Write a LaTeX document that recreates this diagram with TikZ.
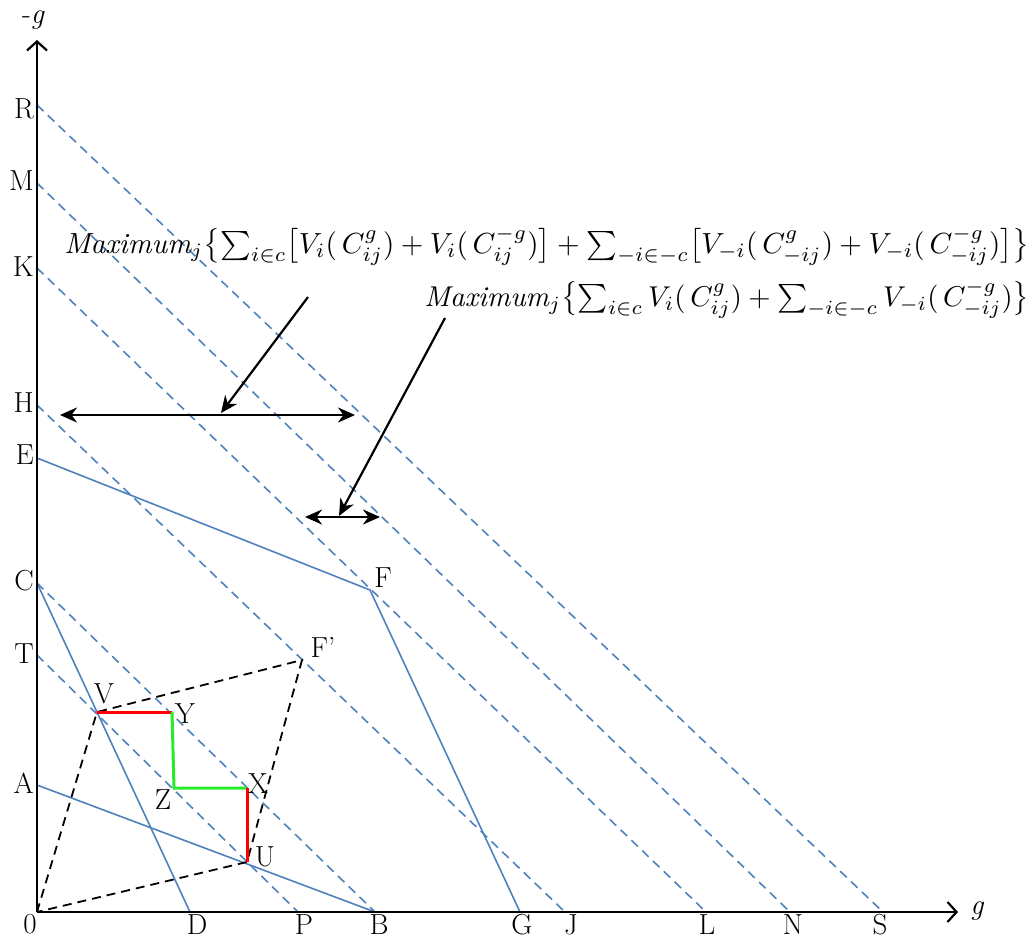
\documentclass[tikz,border=0pt]{standalone}
\usepackage{fontspec}
\usepackage{graphicx}
\usetikzlibrary{arrows.meta}
\definecolor{lblue}{RGB}{79,129,189}
\definecolor{lgreen}{RGB}{40,235,40}
\begin{document}
\begin{tikzpicture}[x=1pt,y=-1pt,
  axis/.style={line width=2.5pt,-{Straight Barb[length=9pt,width=20pt,line width=2.2pt]}},
  guide/.style={lblue,line width=1.6pt,dash pattern=on 9pt off 6pt},
  curve/.style={lblue,line width=1.6pt},
  blackdash/.style={black,line width=1.8pt,dash pattern=on 9pt off 6pt},
  redseg/.style={red,line width=3pt},
  greenseg/.style={lgreen,line width=3pt},
  pointer/.style={black,line width=2.2pt,-{Stealth[length=17pt,width=15pt]}},
  dbl/.style={black,line width=2.2pt,{Stealth[length=17pt,width=15pt]}-{Stealth[length=17pt,width=15pt]}},
  lab/.style={font=\fontsize{29}{32}\selectfont,inner sep=0pt},
  ylab/.style={lab,anchor=east},
  xlab/.style={lab,anchor=base}]
\useasboundingbox (0,0) rectangle (1036,940);
% points
\coordinate (O) at (37,912);
\coordinate (R) at (37,105);
\coordinate (M) at (37,183);
\coordinate (K) at (37,268);
\coordinate (H) at (37,405);
\coordinate (E) at (37,458);
\coordinate (C) at (37,583);
\coordinate (T) at (37,655);
\coordinate (A) at (37,785);
\coordinate (D) at (190,912);
\coordinate (P) at (298,912);
\coordinate (B) at (375,912);
\coordinate (G) at (520,912);
\coordinate (J) at (565,912);
\coordinate (L) at (706,912);
\coordinate (N) at (790,912);
\coordinate (S) at (883,912);
\coordinate (F) at (370,590);
\coordinate (Fp) at (302,660);
\coordinate (V) at (97,712);
\coordinate (Y) at (172,712);
\coordinate (Z) at (174,788);
\coordinate (X) at (247,788);
\coordinate (U) at (247,862);
\coordinate (ytip) at (37,40);
\coordinate (xtip) at (958,912);
% dashed parallel lines
\draw[guide] (R) -- (S);
\draw[guide] (M) -- (N);
\draw[guide] (K) -- (L);
\draw[guide] (H) -- (J);
\draw[guide] (C) -- (B);
\draw[guide] (T) -- (P);
% solid blue
\draw[curve] (E) -- (F) -- (G);
\draw[curve] (C) -- (D);
\draw[curve] (A) -- (B);
% black dashed
\draw[blackdash] (O) -- (V) -- (Fp) -- (U) -- cycle;
% red / green
\draw[redseg] (V) -- (Y);
\draw[greenseg] (Y) -- (Z) -- (X);
\draw[redseg] (X) -- (U);
% axes
\draw[axis] (O) -- (ytip);
\draw[axis] (O) -- (xtip);
% axis labels
\node[ylab] (lr) at (34,109) {R};
\node[ylab] (lm) at (34,181) {M};
\node[ylab] (lk) at (34,267) {K};
\node[ylab] (lh) at (34,403) {H};
\node[ylab] (le) at (34,455) {E};
\node[ylab] (lc) at (34,581) {C};
\node[ylab] (lt) at (34,654) {T};
\node[ylab] (la) at (34,783) {A};
\node[xlab] (lo) at (30,933) {0};
\node[xlab] (ld) at (197,934) {D};
\node[xlab] (lp) at (304,934) {P};
\node[xlab] (lb) at (379,934) {B};
\node[xlab] (lg) at (522,934) {G};
\node[xlab] (lj) at (571,934) {J};
\node[xlab] (ll) at (707,934) {L};
\node[xlab] (ln) at (793,934) {N};
\node[xlab] (ls) at (880,934) {S};
\node[lab] (lyax) at (33,20) {-\itshape g};
\node[lab] (lxax) at (977,911) {\itshape g};
\node[lab] (lf) at (383,578) {F};
\node[lab] (lfp) at (323,647) {F’};
\node[lab] (lv) at (104,694) {V};
\node[lab] (ly) at (185,714) {Y};
\node[lab] (lz) at (163,800) {Z};
\node[lab] (lx) at (258,784) {X};
\node[lab] (lu) at (265,857) {U};
% formulas
\node[inner sep=0pt] (f1) at (547,246) {\resizebox{965pt}{!}{$\mathit{Maximum}_j\bigl\{\sum_{i\in c}\bigl[V_i(\,C^{g}_{ij}) + V_i(\,C^{-g}_{ij})\bigr] + \sum_{-i\in -c}\bigl[V_{-i}(\,C^{g}_{-ij}) + V_{-i}(\,C^{-g}_{-ij})\bigr]\bigr\}$}};
\node[inner sep=0pt] (f2) at (727,299) {\resizebox{605pt}{!}{$\mathit{Maximum}_j\bigl\{\sum_{i\in c} V_i(\,C^{g}_{ij}) + \sum_{-i\in -c} V_{-i}(\,C^{-g}_{-ij})\bigr\}$}};
% arrows
\coordinate (a1s) at (308,297);
\coordinate (a1e) at (221,413);
\coordinate (a2s) at (445,318);
\coordinate (a2e) at (339,516);
\coordinate (d1l) at (60,415);
\coordinate (d1r) at (355,415);
\coordinate (d2l) at (305,517);
\coordinate (d2r) at (380,517);
\draw[dbl] (d1l) -- (d1r);
\draw[dbl] (d2l) -- (d2r);
\draw[pointer] (a1s) -- (a1e);
\draw[pointer] (a2s) -- (a2e);
\end{tikzpicture}
\end{document}
